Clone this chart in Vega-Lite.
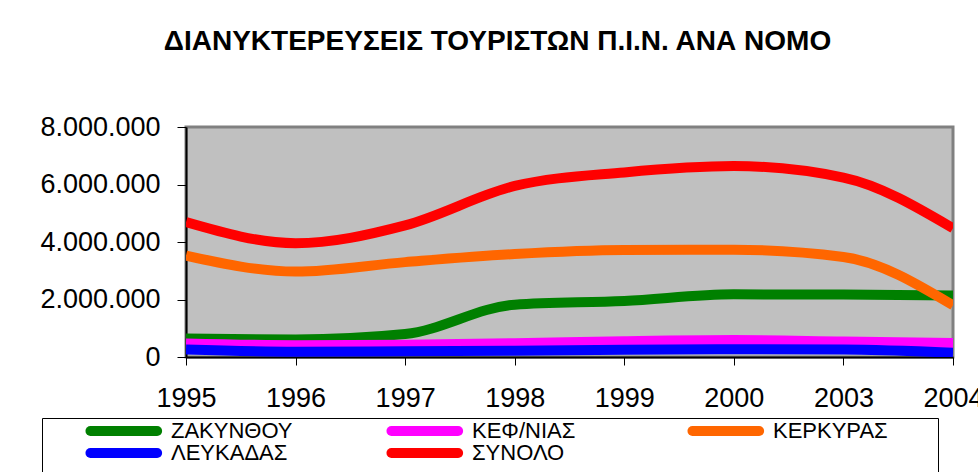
{
  "$schema": "https://vega.github.io/schema/vega-lite/v6.json",
  "width": 767,
  "height": 230,
  "autosize": {"type": "none"},
  "padding": {"left": 186, "top": 127, "right": 25, "bottom": 115},
  "background": "white",
  "config": {
    "locale": {"number": {"decimal": ",", "thousands": ".", "grouping": [3], "currency": ["", " €"]}},
    "view": {"fill": "#C0C0C0", "stroke": "#808080", "strokeWidth": 3},
    "font": "Liberation Sans"
  },
  "title": {
    "text": "ΔΙΑΝΥΚΤΕΡΕΥΣΕΙΣ ΤΟΥΡΙΣΤΩΝ Π.Ι.Ν. ΑΝΑ ΝΟΜΟ",
    "fontSize": 28,
    "fontWeight": "bold",
    "font": "Liberation Sans",
    "color": "black",
    "anchor": "middle",
    "frame": "group",
    "dx": -72,
    "offset": 57
  },
  "data": {
    "values": [
      {"year": "1995", "series": "ΖΑΚΥΝΘΟΥ", "value": 640000},
      {"year": "1996", "series": "ΖΑΚΥΝΘΟΥ", "value": 610000},
      {"year": "1997", "series": "ΖΑΚΥΝΘΟΥ", "value": 800000},
      {"year": "1998", "series": "ΖΑΚΥΝΘΟΥ", "value": 1820000},
      {"year": "1999", "series": "ΖΑΚΥΝΘΟΥ", "value": 1950000},
      {"year": "2000", "series": "ΖΑΚΥΝΘΟΥ", "value": 2180000},
      {"year": "2003", "series": "ΖΑΚΥΝΘΟΥ", "value": 2170000},
      {"year": "2004", "series": "ΖΑΚΥΝΘΟΥ", "value": 2140000},
      {"year": "1995", "series": "ΚΕΦ/ΝΙΑΣ", "value": 470000},
      {"year": "1996", "series": "ΚΕΦ/ΝΙΑΣ", "value": 410000},
      {"year": "1997", "series": "ΚΕΦ/ΝΙΑΣ", "value": 430000},
      {"year": "1998", "series": "ΚΕΦ/ΝΙΑΣ", "value": 480000},
      {"year": "1999", "series": "ΚΕΦ/ΝΙΑΣ", "value": 550000},
      {"year": "2000", "series": "ΚΕΦ/ΝΙΑΣ", "value": 590000},
      {"year": "2003", "series": "ΚΕΦ/ΝΙΑΣ", "value": 540000},
      {"year": "2004", "series": "ΚΕΦ/ΝΙΑΣ", "value": 490000},
      {"year": "1995", "series": "ΚΕΡΚΥΡΑΣ", "value": 3530000},
      {"year": "1996", "series": "ΚΕΡΚΥΡΑΣ", "value": 2970000},
      {"year": "1997", "series": "ΚΕΡΚΥΡΑΣ", "value": 3300000},
      {"year": "1998", "series": "ΚΕΡΚΥΡΑΣ", "value": 3580000},
      {"year": "1999", "series": "ΚΕΡΚΥΡΑΣ", "value": 3720000},
      {"year": "2000", "series": "ΚΕΡΚΥΡΑΣ", "value": 3730000},
      {"year": "2003", "series": "ΚΕΡΚΥΡΑΣ", "value": 3480000},
      {"year": "2004", "series": "ΚΕΡΚΥΡΑΣ", "value": 1800000},
      {"year": "1995", "series": "ΛΕΥΚΑΔΑΣ", "value": 260000},
      {"year": "1996", "series": "ΛΕΥΚΑΔΑΣ", "value": 180000},
      {"year": "1997", "series": "ΛΕΥΚΑΔΑΣ", "value": 200000},
      {"year": "1998", "series": "ΛΕΥΚΑΔΑΣ", "value": 220000},
      {"year": "1999", "series": "ΛΕΥΚΑΔΑΣ", "value": 250000},
      {"year": "2000", "series": "ΛΕΥΚΑΔΑΣ", "value": 270000},
      {"year": "2003", "series": "ΛΕΥΚΑΔΑΣ", "value": 260000},
      {"year": "2004", "series": "ΛΕΥΚΑΔΑΣ", "value": 150000},
      {"year": "1995", "series": "ΣΥΝΟΛΟ", "value": 4690000},
      {"year": "1996", "series": "ΣΥΝΟΛΟ", "value": 3960000},
      {"year": "1997", "series": "ΣΥΝΟΛΟ", "value": 4580000},
      {"year": "1998", "series": "ΣΥΝΟΛΟ", "value": 5950000},
      {"year": "1999", "series": "ΣΥΝΟΛΟ", "value": 6420000},
      {"year": "2000", "series": "ΣΥΝΟΛΟ", "value": 6640000},
      {"year": "2003", "series": "ΣΥΝΟΛΟ", "value": 6240000},
      {"year": "2004", "series": "ΣΥΝΟΛΟ", "value": 4480000}
    ]
  },
  "mark": {"type": "line", "strokeWidth": 10, "interpolate": "monotone", "clip": true},
  "encoding": {
    "x": {
      "field": "year",
      "type": "ordinal",
      "scale": {"type": "point", "padding": 0},
      "axis": {
        "title": null,
        "labelAngle": 0,
        "labelFontSize": 27,
        "labelColor": "black",
        "labelPadding": 20,
        "tickSize": 8,
        "tickColor": "black",
        "domainColor": "black",
        "domainWidth": 2,
        "grid": false,
        "labelOverlap": false
      }
    },
    "y": {
      "field": "value",
      "type": "quantitative",
      "scale": {"domain": [0, 8000000], "nice": false},
      "axis": {
        "title": null,
        "values": [0, 2000000, 4000000, 6000000, 8000000],
        "format": ",d",
        "labelFontSize": 27,
        "labelColor": "black",
        "labelPadding": 17,
        "tickSize": 9,
        "tickColor": "black",
        "domainColor": "black",
        "domainWidth": 2,
        "grid": false
      }
    },
    "color": {
      "field": "series",
      "type": "nominal",
      "sort": ["ΖΑΚΥΝΘΟΥ", "ΚΕΦ/ΝΙΑΣ", "ΚΕΡΚΥΡΑΣ", "ΛΕΥΚΑΔΑΣ", "ΣΥΝΟΛΟ"],
      "scale": {
        "domain": ["ΖΑΚΥΝΘΟΥ", "ΚΕΦ/ΝΙΑΣ", "ΚΕΡΚΥΡΑΣ", "ΛΕΥΚΑΔΑΣ", "ΣΥΝΟΛΟ"],
        "range": ["#008000", "#FF00FF", "#FF6600", "#0000FF", "#FF0000"]
      },
      "legend": {
        "title": "\u2800",
        "titleOrient": "bottom",
        "titleFontSize": 5,
        "titlePadding": 2,
        "orient": "none",
        "legendX": -144,
        "legendY": 291,
        "direction": "horizontal",
        "columns": 3,
        "gridAlign": "all",
        "columnPadding": 4,
        "rowPadding": 0,
        "clipHeight": 22,
        "symbolType": "M6.45,0H18.57",
        "symbolSize": 121,
        "symbolStrokeWidth": 10,
        "labelFontSize": 22,
        "labelColor": "black",
        "labelOffset": 105,
        "labelLimit": 400,
        "labelExpr": "datum.label + '\u2800\u2800\u2800'",
        "fillColor": "white",
        "strokeColor": "black",
        "padding": 2,
        "encode": {"symbols": {"update": {"strokeCap": {"value": "round"}}}}
      }
    }
  }
}
